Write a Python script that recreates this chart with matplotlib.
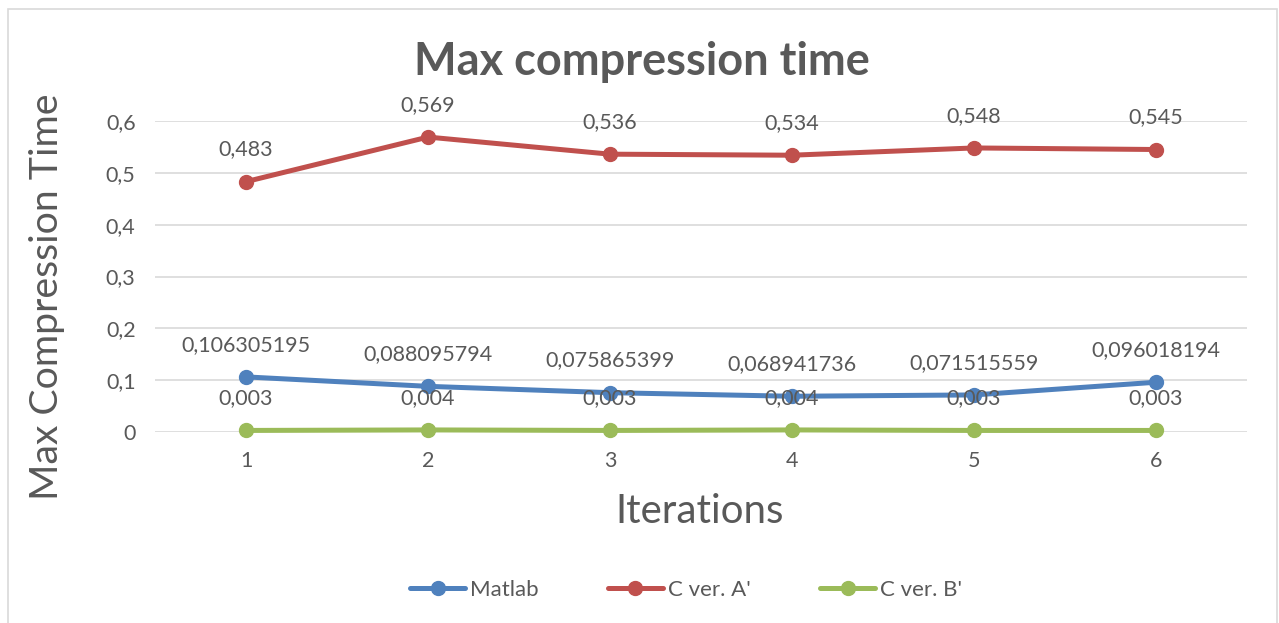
import matplotlib
matplotlib.use("Agg")
import matplotlib.pyplot as plt
from matplotlib.patches import Rectangle

# ====== DATA ======
iterations = [1, 2, 3, 4, 5, 6]
matlab = [0.106305195, 0.088095794, 0.075865399, 0.068941736, 0.071515559, 0.096018194]
c_ver_a = [0.483, 0.569, 0.536, 0.534, 0.548, 0.545]
c_ver_b = [0.003, 0.004, 0.003, 0.004, 0.003, 0.003]
y_ticks = [0, 0.1, 0.2, 0.3, 0.4, 0.5, 0.6]

series = [
    ("Matlab", matlab, "#4F81BD"),
    ("C ver. A'", c_ver_a, "#C0504D"),
    ("C ver. B'", c_ver_b, "#9BBB59"),
]

plt.rcParams["font.family"] = ["Lato", "DejaVu Sans"]
text_color = "#595959"

def comma(v):
    # decimal comma, as in the source workbook
    return repr(v).replace(".", ",")

# ====== PLOT ======
fig = plt.figure(figsize=(12.79, 6.23), dpi=100)
fig.patches.append(Rectangle((8 / 1279, -0.1), 1269 / 1279, 1.1 - 9 / 623,
                             transform=fig.transFigure, fill=False,
                             edgecolor="#D9D9D9", linewidth=1.2))
ax = fig.add_axes([155 / 1279, 1 - 432 / 623, 1092 / 1279, 311 / 623])

for name, vals, color in series:
    ax.plot(iterations, vals, color=color, linewidth=3.6, marker="o",
            markersize=10, label=name, solid_capstyle="round", zorder=3,
            clip_on=False)
    for x, v in zip(iterations, vals):
        ax.annotate(comma(v), (x, v), xytext=(0, 16), textcoords="offset points",
                    ha="center", va="bottom", fontsize=15.5, color=text_color)

ax.set_xlim(0.5, 6.5)
ax.set_ylim(0, 0.6)
ax.set_xticks(iterations)
ax.set_xticklabels([str(i) for i in iterations])
ax.set_yticks(y_ticks)
ax.set_yticklabels([comma(t) if t else "0" for t in y_ticks])
ax.grid(axis="y", color="#D9D9D9", linewidth=1.2)
ax.set_axisbelow(True)
for s in ax.spines.values():
    s.set_visible(False)
ax.tick_params(length=0, labelsize=15.5, labelcolor=text_color, pad=14)

ax.set_xlabel("Iterations", fontsize=29, color=text_color)
ax.xaxis.label.set_va("center")
ax.xaxis.set_label_coords(0.499, -0.257)
ax.set_ylabel("Max Compression Time", fontsize=28.3, color=text_color)
ax.yaxis.label.set_va("center")
ax.yaxis.set_label_coords(-0.099, 0.434)

fig.text(0.502, 1 - 62 / 623, "Max compression time", fontsize=32.5,
         fontweight="bold", color=text_color, ha="center", va="center")

ax.legend(loc="center", bbox_to_anchor=(686 / 1279, 1 - 590 / 623),
          bbox_transform=fig.transFigure, ncol=3, frameon=False, fontsize=16,
          labelcolor=text_color, handlelength=2.5, handletextpad=0.22,
          columnspacing=3.1)

plt.savefig("out.png", dpi=100)
plt.close()
